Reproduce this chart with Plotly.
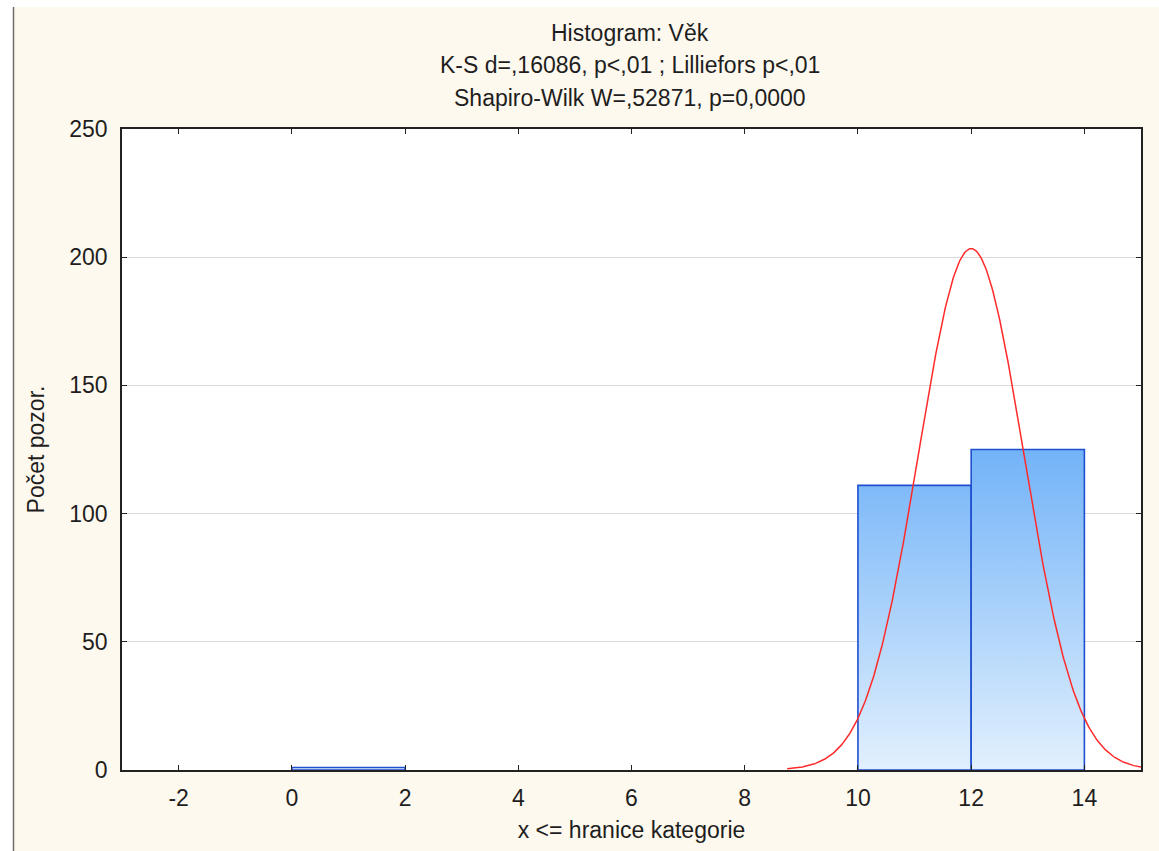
import numpy as np
import plotly.graph_objects as go

# Histogram of age: bin edges and counts per bin
bin_left = [0, 10, 12]
bin_right = [2, 12, 14]
counts = [1, 111, 125]

# Fitted normal curve parameters
fit_mean = 12.0
fit_sd = 0.93
bin_width = 2.0

x_ticks = [-2, 0, 2, 4, 6, 8, 10, 12, 14]
x_tick_text = ["-2", "0", "2", "4", "6", "8", "10", "12", "14"]
y_ticks = [0, 50, 100, 150, 200, 250]

title_lines = [
    "Histogram: Věk",
    "K-S d=,16086, p<,01 ; Lilliefors p<,01",
    "Shapiro-Wilk W=,52871, p=0,0000",
]

W, H = 1159, 851
L, R, T, B = 122, 18, 129, 81
pw, ph = W - L - R, H - T - B

FONT = "Liberation Sans, Arial, sans-serif"
FS = 23
TXT = "#1e1e1e"
BAR_EDGE = "#1f4fcf"
CREAM = "#fef9ee"

fig = go.Figure()

n_total = sum(counts)
top = max(counts)
for x0, x1, c in zip(bin_left, bin_right, counts):
    fig.add_trace(go.Scatter(
        x=[x0, x0, x1, x1, x0],
        y=[0, c, c, 0, 0],
        mode="lines",
        fill="toself",
        fillgradient=dict(
            type="vertical",
            colorscale=[[0, "#e2f0fd"], [1, "#72b3f8"]],
            start=0, stop=top,
        ),
        line=dict(color=BAR_EDGE, width=1.6),
        hoverinfo="skip",
        showlegend=False,
    ))

# Expected counts under the normal fit
xc = np.linspace(8.75, 15.0, 400)
yc = n_total * bin_width * np.exp(-0.5 * ((xc - fit_mean) / fit_sd) ** 2) / (fit_sd * np.sqrt(2 * np.pi))
fig.add_trace(go.Scatter(
    x=xc, y=yc, mode="lines",
    line=dict(color="#ff2a2a", width=1.5),
    hoverinfo="skip", showlegend=False,
))

for i, line in enumerate(title_lines):
    fig.add_annotation(
        text=line, xref="paper", yref="paper",
        x=(630 - L) / pw, y=(H - B - (33 + 32.5 * i)) / ph,
        xanchor="center", yanchor="middle", showarrow=False,
        font=dict(family=FONT, size=FS, color=TXT),
    )

# Outer frame: white strips and grey left border
fig.add_shape(type="rect", xref="paper", yref="paper",
              x0=-L / pw, x1=(W - L) / pw, y0=(H - B - 7) / ph, y1=(H - B) / ph + 0.01,
              fillcolor="white", line_width=0, layer="above")
fig.add_shape(type="rect", xref="paper", yref="paper",
              x0=-L / pw - 0.01, x1=(13 - L) / pw, y0=-B / ph - 0.01, y1=(H - B) / ph + 0.01,
              fillcolor="white", line_width=0, layer="above")
fig.add_shape(type="line", xref="paper", yref="paper",
              x0=(13.5 - L) / pw, x1=(13.5 - L) / pw, y0=-B / ph - 0.01, y1=(H - B - 7) / ph,
              line=dict(color="#6e6e6e", width=1.5), layer="above")

axis_common = dict(
    showline=True, mirror="ticks", linecolor="#222222", linewidth=1.5,
    ticks="inside", ticklen=5, tickcolor="#222222", tickwidth=1,
    tickfont=dict(family=FONT, size=FS, color=TXT),
    zeroline=False,
)

fig.update_xaxes(
    range=[-3, 15], tickvals=x_ticks, ticktext=x_tick_text, showgrid=False,
    ticklabelstandoff=7,
    title=dict(text="x <= hranice kategorie", standoff=12,
               font=dict(family=FONT, size=FS, color=TXT)),
    **axis_common,
)
fig.update_yaxes(
    range=[0, 250], tickvals=y_ticks, showgrid=True,
    gridcolor="#d9d9d9", gridwidth=1,
    ticklabelstandoff=8,
    title=dict(text="Počet pozor.", standoff=18,
               font=dict(family=FONT, size=FS, color=TXT)),
    **axis_common,
)

fig.update_layout(
    width=W, height=H,
    margin=dict(l=L, r=R, t=T, b=B, autoexpand=False),
    paper_bgcolor=CREAM, plot_bgcolor="white",
    font=dict(family=FONT),
)

fig.write_html("out.html")
